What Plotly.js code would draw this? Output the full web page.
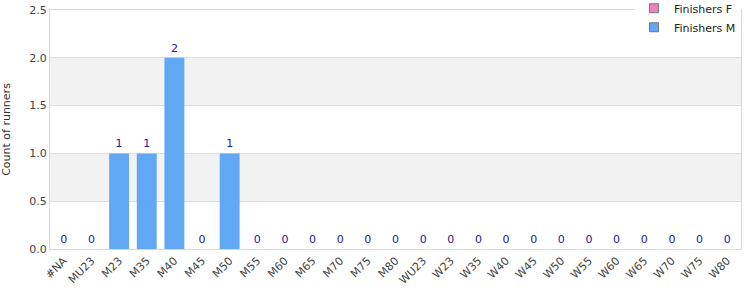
<!DOCTYPE html>
<html>
<head>
<meta charset="utf-8">
<script src="https://cdn.plot.ly/plotly-3.0.1.min.js"></script>
<style>html,body{margin:0;padding:0;background:#fff;}#chart{width:750px;height:300px;}</style>
</head>
<body>
<div id="chart"></div>
<script>
const categories = ["#NA","MU23","M23","M35","M40","M45","M50","M55","M60","M65","M70","M75","M80","WU23","W23","W35","W40","W45","W50","W55","W60","W65","W70","W75","W80"];
const finishersF = [0,0,0,0,0,0,0,0,0,0,0,0,0,0,0,0,0,0,0,0,0,0,0,0,0];
const finishersM = [0,0,1,1,2,0,1,0,0,0,0,0,0,0,0,0,0,0,0,0,0,0,0,0,0];
const yTicks = [0,0.5,1,1.5,2,2.5];

const colorF = "#ee82b8";
const colorM = "#60a8f4";

const traces = [
  {type:"bar", name:"Finishers F", x:categories, y:finishersF, marker:{color:colorF}, showlegend:false, hoverinfo:"skip"},
  {type:"bar", name:"Finishers M", x:categories, y:finishersM, marker:{color:colorM},
   text:finishersM.map(String), textposition:"outside", cliponaxis:false,
   textfont:{family:"DejaVu Sans", size:11, color:"#1c1c8f"}, showlegend:false},
  {type:"scatter", mode:"markers", name:"Finishers F", x:[null], y:[null],
   marker:{symbol:"square", size:9, color:colorF, line:{color:"#777", width:1}}},
  {type:"scatter", mode:"markers", name:"Finishers M", x:[null], y:[null],
   marker:{symbol:"square", size:9, color:colorM, line:{color:"#777", width:1}}}
];

const shapes = [[0.5,1],[1.5,2]].map(([a,b]) => ({
  type:"rect", xref:"paper", yref:"y", x0:0, x1:1, y0:a, y1:b,
  fillcolor:"#f2f2f2", line:{width:0}, layer:"below"
}));

const layout = {
  width:750, height:300,
  margin:{l:50, r:9, t:10, b:51, autoexpand:false},
  barmode:"overlay", bargap:0.28,
  font:{family:"DejaVu Sans", size:11, color:"#444"},
  plot_bgcolor:"#fff", paper_bgcolor:"#fff",
  showlegend:true,
  legend:{x:1, xanchor:"right", y:1.068, yanchor:"top", bgcolor:"#fff",
          font:{family:"DejaVu Sans", size:11, color:"#222"}, tracegroupgap:0, itemwidth:30},
  xaxis:{type:"category", tickangle:-45, showgrid:false, linecolor:"#d9d9d9", mirror:true, showline:true,
         tickfont:{family:"DejaVu Sans", size:11, color:"#444"}, ticks:"", fixedrange:true},
  yaxis:{range:[0,2.5], tickvals:yTicks, tickformat:".1f", gridcolor:"#dcdcdc", linecolor:"#d9d9d9",
         showline:true, mirror:true, zeroline:false,
         tickfont:{family:"DejaVu Sans", size:11, color:"#444"},
         title:{text:"Count of runners", font:{family:"DejaVu Sans", size:11, color:"#333"}, standoff:17}},
  shapes:shapes
};

Plotly.newPlot("chart", traces, layout, {displayModeBar:false, staticPlot:true});
</script>
</body>
</html>
